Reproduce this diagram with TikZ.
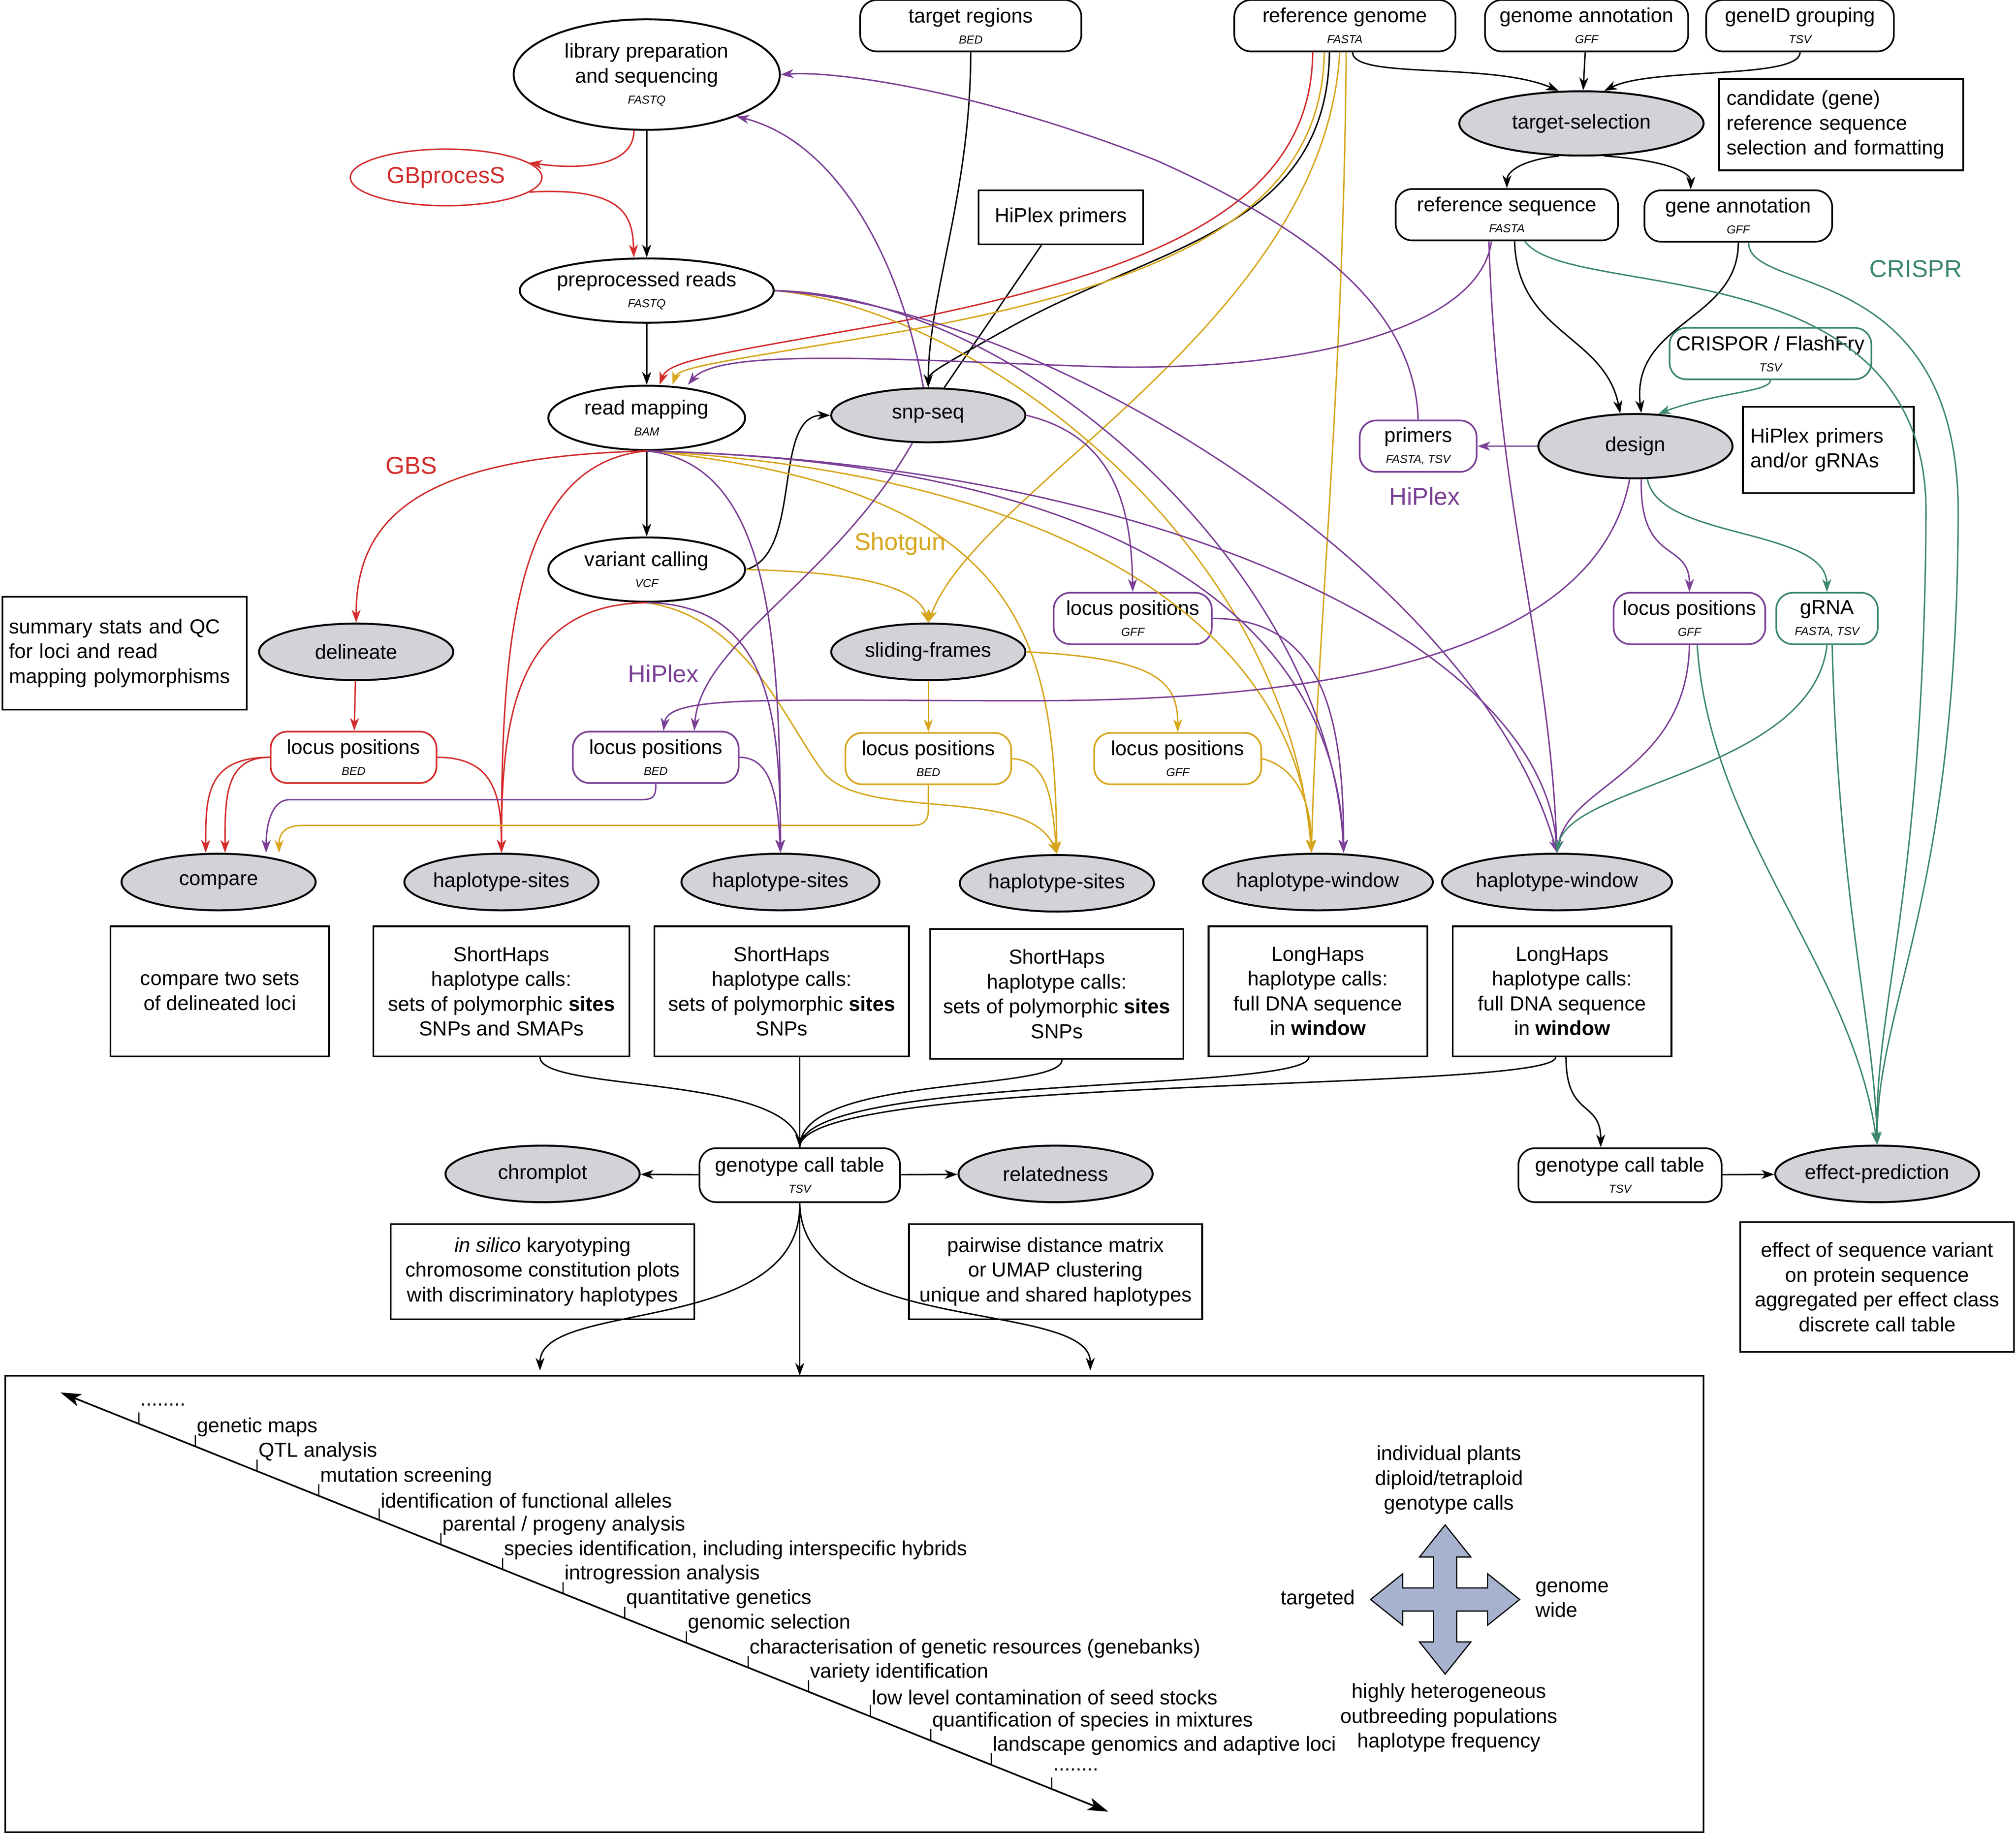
\documentclass[tikz,border=0pt]{standalone}
\usepackage{fontspec}
\setmainfont{Liberation Sans}
\usetikzlibrary{shapes.geometric, arrows.meta, positioning, calc}
\definecolor{gbsColor}{RGB}{212, 43, 43}
\definecolor{shotColor}{RGB}{214, 166, 28}
\definecolor{hipColor}{RGB}{123, 63, 150}
\definecolor{crisColor}{RGB}{60, 135, 110}
\definecolor{procColor}{RGB}{209, 211, 216}
\definecolor{crossColor}{RGB}{166, 178, 206}
\newcommand{\ftype}[1]{\\[-3pt]{\fontsize{9}{10}\selectfont\itshape #1}}

\begin{document}
\begin{tikzpicture}[x=1pt, y=-1pt,
    >={Stealth[length=10pt,width=7pt,inset=3pt]},
    every node/.style={font=\fontsize{15.8}{19.3}\selectfont, align=center},
    oval/.style={ellipse, draw, line width=1.5pt, minimum width=153pt, minimum height=50pt, inner sep=0pt},
    procnode/.style={ellipse, draw, line width=1.5pt, fill=procColor, minimum width=151pt, minimum height=44pt, inner sep=0pt},
    datanode/.style={rectangle, draw, line width=1.3pt, rounded corners=13pt, minimum height=40pt, inner sep=2pt},
    textbox/.style={rectangle, draw, line width=1.3pt, inner sep=4pt},
    flow/.style={->, line width=1.1pt},
    label/.style={font=\fontsize{19}{21}\selectfont}]
    \useasboundingbox (0,0) rectangle (1568,1427);

    % Inputs
    \node[datanode, minimum width=172pt] (treg) at (755,20) {target regions\ftype{BED}};
    \node[datanode, minimum width=172pt] (refgen) at (1046,20) {reference genome\ftype{FASTA}};
    \node[datanode, minimum width=158pt] (genann) at (1234,20) {genome annotation\ftype{GFF}};
    \node[datanode, minimum width=146pt] (geneid) at (1400,20) {geneID grouping\ftype{TSV}};
    \node[oval, minimum width=207pt, minimum height=86pt] (libprep) at (503,58) {library preparation\\and sequencing\ftype{FASTQ}};
    \node[ellipse, draw=gbsColor, line width=1.1pt, text=gbsColor, minimum width=149pt, minimum height=44pt, font=\fontsize{18}{20}\selectfont] (gbp) at (347,138) {GBprocesS};
    \node[oval, minimum width=183pt] (prepr) at (503,226) {preprocessed reads\ftype{FASTQ}};
    \node[textbox, minimum width=128pt, minimum height=42pt] (hpprim) at (825,169) {HiPlex primers};

    % Target selection and design
    \node[procnode, minimum width=190pt, minimum height=50pt] (tsel) at (1230,96) {target-selection};
    \node[textbox, minimum width=190pt, minimum height=71pt, align=left, text width=178pt] (cand) at (1432,97) {candidate (gene)\\reference sequence\\selection and formatting};
    \node[datanode, minimum width=173pt] (refseq) at (1172,167) {reference sequence\ftype{FASTA}};
    \node[datanode, minimum width=146pt] (gann) at (1352,168) {gene annotation\ftype{GFF}};
    \node[datanode, draw=crisColor, minimum width=157pt] (crispor) at (1377,275) {CRISPOR / FlashFry\ftype{TSV}};
    \node[procnode, minimum width=151pt, minimum height=50pt] (design) at (1272,347) {design};
    \node[datanode, draw=hipColor, minimum width=91pt] (primers) at (1103,347) {primers\ftype{FASTA, TSV}};
    \node[textbox, minimum width=133pt, minimum height=67pt, align=left, text width=121pt] (hpbox) at (1422,350) {HiPlex primers\\and/or gRNAs};
    \node[datanode, draw=hipColor, minimum width=123pt] (locsnp) at (881,481) {locus positions\ftype{GFF}};
    \node[datanode, draw=hipColor, minimum width=118pt] (locdes) at (1314,481) {locus positions\ftype{GFF}};
    \node[datanode, draw=crisColor, minimum width=79pt] (grna) at (1421,481) {gRNA\ftype{FASTA, TSV}};

    % Mapping
    \node[oval] (rmap) at (503,325) {read mapping\ftype{BAM}};
    \node[procnode, minimum height=42pt] (snpseq) at (722,323) {snp-seq};
    \node[oval] (vcall) at (503,443) {variant calling\ftype{VCF}};
    \node[procnode] (delin) at (277,507) {delineate};
    \node[procnode] (slide) at (722,507) {sliding-frames};
    \node[textbox, minimum width=190pt, minimum height=88pt, align=left, text width=180pt] (summ) at (97,508) {summary stats and QC\\for loci and read\\mapping polymorphisms};

    % Labels
    \node[label, text=gbsColor] (lgbs) at (320,362) {GBS};
    \node[label, text=shotColor] (lshot) at (700,423) {Shotgun};
    \node[label, text=hipColor] (lhip1) at (516,524) {HiPlex};
    \node[label, text=hipColor] (lhip2) at (1108,386) {HiPlex};
    \node[label, text=crisColor] (lcris) at (1490,209) {CRISPR};

    % Locus positions
    \node[datanode, draw=gbsColor, minimum width=129pt] (locgbs) at (275,589) {locus positions\ftype{BED}};
    \node[datanode, draw=hipColor, minimum width=129pt] (lochip) at (510,589) {locus positions\ftype{BED}};
    \node[datanode, draw=shotColor, minimum width=129pt] (locshot) at (722,590) {locus positions\ftype{BED}};
    \node[datanode, draw=shotColor, minimum width=130pt] (locshotg) at (916,590) {locus positions\ftype{GFF}};

    % Haplotype calling
    \node[procnode] (cmp) at (170,686) {compare};
    \node[procnode] (hs1) at (390,686) {haplotype-sites};
    \node[procnode, minimum width=154pt] (hs2) at (607,686) {haplotype-sites};
    \node[procnode] (hs3) at (822,687) {haplotype-sites};
    \node[procnode, minimum width=154pt] (hw1) at (1025,686) {haplotype-window};
    \node[procnode, minimum width=152pt] (hw2) at (1211,686) {haplotype-window};

    \node[textbox, minimum width=170pt, minimum height=101pt] (bcmp) at (171,771) {compare two sets\\of delineated loci};
    \node[textbox, minimum width=199pt, minimum height=101pt] (bs1) at (390,771) {ShortHaps\\haplotype calls:\\sets of polymorphic \textbf{sites}\\SNPs and SMAPs};
    \node[textbox, minimum width=198pt, minimum height=101pt] (bs2) at (608,771) {ShortHaps\\haplotype calls:\\sets of polymorphic \textbf{sites}\\SNPs};
    \node[textbox, minimum width=197pt, minimum height=101pt] (bs3) at (822,773) {ShortHaps\\haplotype calls:\\sets of polymorphic \textbf{sites}\\SNPs};
    \node[textbox, minimum width=170pt, minimum height=101pt] (bw1) at (1025,771) {LongHaps\\haplotype calls:\\full DNA sequence\\in \textbf{window}};
    \node[textbox, minimum width=170pt, minimum height=101pt] (bw2) at (1215,771) {LongHaps\\haplotype calls:\\full DNA sequence\\in \textbf{window}};

    % Genotype tables
    \node[datanode, minimum width=156pt, minimum height=42pt] (gct) at (622,914) {genotype call table\ftype{TSV}};
    \node[procnode] (chrom) at (422,913) {chromplot};
    \node[procnode] (relat) at (821,913) {relatedness};
    \node[datanode, minimum width=158pt, minimum height=42pt] (gct2) at (1260,914) {genotype call table\ftype{TSV}};
    \node[procnode] (effp) at (1460,913) {effect-prediction};
    \node[textbox, minimum width=236pt, minimum height=74pt] (bsilico) at (422,989) {\textit{in silico} karyotyping\\chromosome constitution plots\\with discriminatory haplotypes};
    \node[textbox, minimum width=228pt, minimum height=74pt] (bpair) at (821,989) {pairwise distance matrix\\or UMAP clustering\\unique and shared haplotypes};
    \node[textbox, minimum width=213pt, minimum height=101pt] (beff) at (1460,1001) {effect of sequence variant\\on protein sequence\\aggregated per effect class\\discrete call table};

    % Applications
    \node[textbox, minimum width=1321pt, minimum height=355pt] (big) at (664.5,1247.5) {};
    \coordinate (out1) at (420,1066);
    \coordinate (out2) at (622,1070);
    \coordinate (out3) at (848,1066);

    % Black connectors
    \draw[flow] (libprep) -- (prepr);
    \draw[flow] (prepr) -- (rmap);
    \draw[flow] (rmap) -- (vcall);
    \draw[flow] (vcall.east) .. controls (625,430) and (600,323) .. (snpseq.west);
    \draw[flow] (treg.south) .. controls (755,150) and (722,230) .. (snpseq.north);
    \draw[line width=1.1pt] ([xshift=-15pt]hpprim.south) -- (snpseq.60);
    \draw[flow] ([xshift=-12pt]refgen.south) .. controls (1032,180) and (900,190) .. (783,256) .. controls (735,283) and (722,290) .. (snpseq.north);
    \draw[flow] ([xshift=6pt]refgen.south) .. controls (1052,62) and (1160,48) .. (tsel.125);
    \draw[flow] (genann) -- (tsel);
    \draw[flow] (geneid.south) .. controls (1400,62) and (1285,52) .. (tsel.55);
    \draw[flow] (tsel.-125) .. controls (1180,125) and (1172,135) .. (refseq.north);
    \draw[flow] (tsel.-55) .. controls (1300,125) and (1315,135) .. ([xshift=-37pt]gann.north);
    \draw[flow] ([xshift=6pt]refseq.south) .. controls (1180,260) and (1248,260) .. (design.115);
    \draw[flow] (gann.south) .. controls (1352,250) and (1268,250) .. (design.80);
    \foreach \b/\x in {bs1/420, bs2/622, bs3/826, bw1/1018, bw2/1210} {
        \draw[line width=1.1pt] (\b.south -| \x,0) .. controls (\x,850) and (622,835) .. (gct.north);
    }
    \draw[flow] (gct.north) ++(0,-30) -- (gct.north);
    \draw[flow] (bw2.south -| 1218,0) .. controls (1218,870) and (1245,855) .. ([xshift=-15pt]gct2.north);
    \draw[flow] (gct) -- (chrom);
    \draw[flow] (gct) -- (relat);
    \draw[flow] (gct2) -- (effp);
    \draw[flow] (gct.south) .. controls (624,1040) and (420,1010) .. (out1);
    \draw[flow] (gct.south) -- (out2);
    \draw[flow] (gct.south) .. controls (624,1040) and (848,1010) .. (out3);

    % GBS connectors
    \begin{scope}[gbsColor]
    \draw[flow] ([xshift=-10pt]libprep.south) .. controls (493,130) and (450,132) .. (gbp.10);
    \draw[flow] (gbp.-10) .. controls (488,145) and (492,170) .. ([xshift=-10pt]prepr.north);
    \draw[flow] ([xshift=-25pt]refgen.south) .. controls (1020,160) and (900,210) .. (700,250) .. controls (560,275) and (520,280) .. ([xshift=10pt]rmap.north);
    \draw[flow] (rmap.south) .. controls (330,355) and (277,400) .. (delin.north);
    \draw[flow] (rmap.south) .. controls (400,360) and (390,500) .. (hs1.north);
    \draw[flow] (vcall.south) .. controls (400,470) and (390,560) .. (hs1.north);
    \draw[flow] (delin) -- (locgbs);
    \draw[flow] (locgbs.west) .. controls (160,589) and (160,620) .. ([xshift=-10pt]cmp.north);
    \draw[flow] (locgbs.west) .. controls (175,589) and (175,620) .. ([xshift=5pt]cmp.north);
    \draw[flow] (locgbs.east) .. controls (385,589) and (390,620) .. (hs1.north);
    \end{scope}

    % Shotgun connectors
    \begin{scope}[shotColor]
    \draw[flow] ([xshift=-16pt]refgen.south) .. controls (1028,165) and (910,220) .. (700,258) .. controls (570,280) and (528,285) .. ([xshift=20pt]rmap.north);
    \draw[flow] ([xshift=-4pt]refgen.south) .. controls (1030,250) and (760,380) .. (slide.north);
    \draw[flow] ([xshift=1pt]refgen.south) .. controls (1045,300) and (1024,500) .. ([xshift=-5pt]hw1.north);
    \draw[flow] (prepr.east) .. controls (760,240) and (1000,420) .. ([xshift=-5pt]hw1.north);
    \draw[flow] (rmap.south) .. controls (800,380) and (820,500) .. (hs3.north);
    \draw[flow] (rmap.south) .. controls (850,370) and (1010,500) .. ([xshift=-5pt]hw1.north);
    \draw[flow] (vcall.east) .. controls (680,445) and (715,460) .. (slide.north);
    \draw[flow] (vcall.south) .. controls (580,480) and (610,560) .. (640,600) .. controls (670,640) and (800,610) .. (hs3.north);
    \draw[flow] (slide) -- (locshot);
    \draw[flow] (slide.east) .. controls (900,512) and (916,530) .. (locshotg.north);
    \draw[flow] (locshot.south) -- (722,630) .. controls (722,642) and (715,642) .. (705,642) -- (235,642) .. controls (220,642) and (217,650) .. ([xshift=47pt]cmp.north);
    \draw[flow] (locshot.east) .. controls (815,592) and (818,620) .. (hs3.north);
    \draw[flow] (locshotg.east) .. controls (1012,598) and (1020,630) .. ([xshift=-5pt]hw1.north);
    \end{scope}

    % HiPlex connectors
    \begin{scope}[hipColor]
    \draw[flow] (snpseq.100) .. controls (700,200) and (650,110) .. (libprep.-25);
    \draw[flow] (primers.north) .. controls (1100,230) and (1000,170) .. (900,125) .. controls (760,70) and (650,55) .. (libprep.east);
    \draw[flow] ([xshift=-12pt]refseq.south) .. controls (1150,260) and (1000,290) .. (850,285) .. controls (700,280) and (560,270) .. ([xshift=32pt]rmap.north);
    \draw[flow] (prepr.east) .. controls (800,230) and (1035,450) .. ([xshift=20pt]hw1.north);
    \draw[flow] (prepr.east) .. controls (820,240) and (1150,450) .. (hw2.north);
    \draw[flow] (rmap.south) .. controls (600,360) and (607,500) .. (hs2.north);
    \draw[flow] (vcall.south) .. controls (600,470) and (607,560) .. (hs2.north);
    \draw[flow] (rmap.south) .. controls (900,360) and (1040,500) .. ([xshift=20pt]hw1.north);
    \draw[flow] (rmap.south) .. controls (900,360) and (1200,500) .. (hw2.north);
    \draw[flow] (snpseq.east) .. controls (870,340) and (880,400) .. (locsnp.north);
    \draw[flow] (snpseq.-120) .. controls (650,450) and (545,500) .. ([xshift=30pt]lochip.north);
    \draw[flow] (design.-100) .. controls (1240,520) and (1000,545) .. (800,545) .. controls (600,545) and (520,540) .. ([xshift=6pt]lochip.north);
    \draw[flow] (design) -- (primers);
    \draw[flow] (design.-80) .. controls (1275,440) and (1314,420) .. (locdes.north);
    \draw[flow] ([xshift=-14pt]refseq.south) .. controls (1165,400) and (1205,500) .. (hw2.north);
    \draw[flow] (locsnp.east) .. controls (1030,481) and (1045,560) .. ([xshift=20pt]hw1.north);
    \draw[flow] (locdes.south) .. controls (1312,600) and (1220,610) .. (hw2.north);
    \draw[flow] (lochip.south) -- (510,612) .. controls (510,622) and (505,622) .. (495,622) -- (225,622) .. controls (212,622) and (207,640) .. ([xshift=37pt]cmp.north);
    \draw[flow] (lochip.east) .. controls (600,589) and (605,620) .. (hs2.north);
    \end{scope}

    % CRISPR connectors
    \begin{scope}[crisColor]
    \draw[flow] (crispor.south) .. controls (1377,305) and (1335,305) .. (design.55);
    \draw[flow] (design.-70) .. controls (1290,420) and (1420,410) .. (grna.north);
    \draw[flow] (grna.south) .. controls (1410,600) and (1220,610) .. (hw2.north);
    \draw[flow] ([xshift=14pt]refseq.south) .. controls (1220,235) and (1500,190) .. (1498,400) .. controls (1496,700) and (1458,780) .. (effp.north);
    \draw[flow] ([xshift=8pt]gann.south) .. controls (1360,230) and (1524,200) .. (1523,400) .. controls (1522,700) and (1460,780) .. (effp.north);
    \draw[flow] ([xshift=4pt]grna.south) .. controls (1430,700) and (1458,800) .. (effp.north);
    \draw[flow] ([xshift=6pt]locdes.south) .. controls (1330,650) and (1440,750) .. (effp.north);
    \end{scope}

    % Applications axis
    \coordinate (axA) at (47,1083);
    \coordinate (axB) at (862,1409);
    \draw[{Stealth[length=16pt,width=10pt,inset=4pt]}-{Stealth[length=16pt,width=10pt,inset=4pt]}, line width=1.3pt] (axA) -- (axB);
    \foreach \x/\txt in {
        108/{........},
        152/{genetic maps},
        200/{QTL analysis},
        248/{mutation screening},
        295/{identification of functional alleles},
        343/{parental / progeny analysis},
        391/{species identification, including interspecific hybrids},
        438/{introgression analysis},
        486/{quantitative genetics},
        534/{genomic selection},
        582/{characterisation of genetic resources (genebanks)},
        629/{variety identification},
        677/{low level contamination of seed stocks},
        724/{quantification of species in mixtures},
        771/{landscape genomics and adaptive loci},
        818/{........}
    } {
        \pgfmathsetmacro{\yl}{1083+0.4*(\x-47)}
        \draw[line width=0.9pt] (\x,\yl) -- (\x,\yl-9);
        \node[anchor=west, inner sep=1pt] at (\x,\yl-15) {\txt};
    }

    % Four-way arrow
    \fill[crossColor, draw=black, line width=0.9pt, shift={(1124,1244)}]
        (0,-58) -- (20,-33) -- (9,-33) -- (9,-9) -- (33,-9) -- (33,-20) -- (58,0) -- (33,20) -- (33,9) -- (9,9)
        -- (9,33) -- (20,33) -- (0,58) -- (-20,33) -- (-9,33) -- (-9,9) -- (-33,9) -- (-33,20) -- (-58,0)
        -- (-33,-20) -- (-33,-9) -- (-9,-9) -- (-9,-33) -- (-20,-33) -- cycle;
    \node (xtop) at (1127,1151) {individual plants\\diploid/tetraploid\\genotype calls};
    \node (xleft) at (1025,1244) {targeted};
    \node[align=left] (xright) at (1223,1244) {genome\\wide};
    \node (xbot) at (1127,1336) {highly heterogeneous\\outbreeding populations\\haplotype frequency};

\end{tikzpicture}
\end{document}
